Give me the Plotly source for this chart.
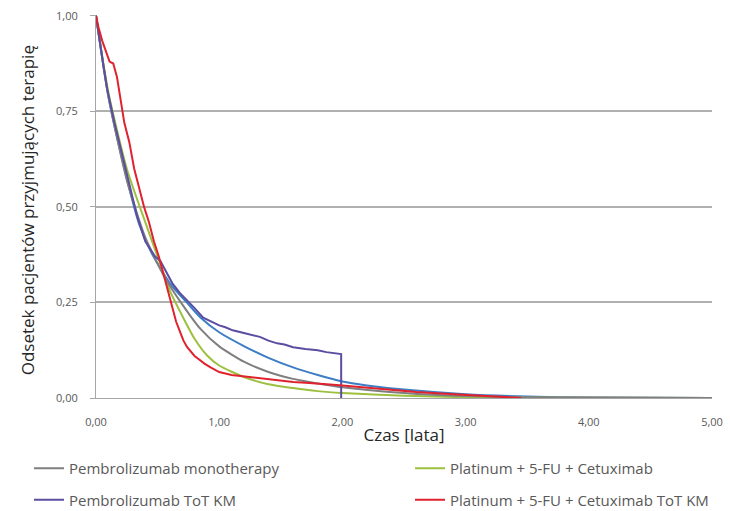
import plotly.graph_objects as go

# ---------------- data ----------------
x_ticks = [0, 1, 2, 3, 4, 5]
x_ticktext = ["0,00", "1,00", "2,00", "3,00", "4,00", "5,00"]
y_ticks = [0, 0.25, 0.5, 0.75, 1.0]
y_ticktext = ["0,00", "0,25", "0,50", "0,75", "1,00"]

# Pembrolizumab monotherapy (smooth model curve)
pem_mono_t = [0, 0.1, 0.25, 0.4, 0.55, 0.7, 0.85, 1.0, 1.2, 1.4, 1.6, 1.8, 2.0, 2.5, 3.0, 3.5, 4.0, 5.0]
pem_mono_y = [1.0, 0.79, 0.57, 0.42, 0.32, 0.245, 0.18, 0.135, 0.095, 0.068, 0.05, 0.038, 0.028, 0.013, 0.005, 0.002, 0.001, 0.0]

# Additional smooth curve (blue, no legend entry)
pem_blue_t = [0, 0.1, 0.25, 0.35, 0.45, 0.6, 0.75, 0.85, 1.0, 1.2, 1.4, 1.6, 1.8, 2.0, 2.2, 2.5, 3.0, 3.5, 4.0, 5.0]
pem_blue_y = [1.0, 0.79, 0.575, 0.455, 0.38, 0.3, 0.245, 0.21, 0.172, 0.136, 0.105, 0.08, 0.06, 0.043, 0.033, 0.022, 0.01, 0.004, 0.001, 0.0]

# Pembrolizumab ToT KM
pem_km_t = [0, 0.03, 0.06, 0.09, 0.12, 0.15, 0.18, 0.21, 0.24, 0.27, 0.3, 0.33, 0.36, 0.4, 0.44, 0.48,
            0.52, 0.57, 0.62, 0.68, 0.74, 0.8, 0.87, 0.93, 1.0, 1.05, 1.11, 1.2, 1.33, 1.4, 1.47, 1.53,
            1.6, 1.7, 1.8, 1.87, 1.96, 1.99, 1.99]
pem_km_y = [1.0, 0.93, 0.87, 0.81, 0.76, 0.72, 0.68, 0.64, 0.6, 0.56, 0.52, 0.48, 0.45, 0.41, 0.39, 0.37,
            0.36, 0.33, 0.3, 0.275, 0.256, 0.235, 0.21, 0.2, 0.19, 0.185, 0.177, 0.17, 0.16, 0.15, 0.143, 0.14,
            0.133, 0.128, 0.125, 0.12, 0.117, 0.115, 0.0]

# Platinum + 5-FU + Cetuximab (smooth model curve)
plat_t = [0, 0.1, 0.25, 0.4, 0.5, 0.6, 0.7, 0.8, 0.9, 1.0, 1.2, 1.4, 1.6, 1.8, 2.0, 2.5, 3.0, 3.5, 5.0]
plat_y = [1.0, 0.8, 0.6, 0.46, 0.37, 0.28, 0.215, 0.155, 0.112, 0.085, 0.055, 0.036, 0.026, 0.018, 0.013, 0.006, 0.002, 0.001, 0.0]

# Platinum + 5-FU + Cetuximab ToT KM
plat_km_t = [0, 0.02, 0.05, 0.08, 0.11, 0.14, 0.17, 0.2, 0.23, 0.27, 0.31, 0.35, 0.39, 0.43, 0.47, 0.51,
             0.55, 0.59, 0.62, 0.65, 0.68, 0.71, 0.74, 0.77, 0.8, 0.84, 0.88, 0.93, 1.0, 1.1, 1.2, 1.3,
             1.4, 1.5, 1.6, 1.7, 1.8, 1.9, 2.0, 2.2, 2.4, 2.6, 2.8, 3.0, 3.2, 3.35, 3.45]
plat_km_y = [1.0, 0.97, 0.935, 0.905, 0.88, 0.875, 0.84, 0.78, 0.72, 0.67, 0.6, 0.55, 0.5, 0.46, 0.41, 0.37,
             0.32, 0.27, 0.23, 0.2, 0.175, 0.15, 0.133, 0.12, 0.11, 0.1, 0.09, 0.08, 0.068, 0.06, 0.056, 0.052,
             0.048, 0.044, 0.042, 0.04, 0.037, 0.035, 0.033, 0.027, 0.021, 0.016, 0.012, 0.008, 0.004, 0.001, 0.0]

names = ["Pembrolizumab monotherapy", "Pembrolizumab ToT KM",
         "Platinum + 5-FU + Cetuximab", "Platinum + 5-FU + Cetuximab ToT KM"]
y_title = "Odsetek pacjentów przyjmujących terapię"
x_title = "Czas [lata]"

# ---------------- figure ----------------
fig = go.Figure()

fig.add_trace(go.Scatter(x=pem_blue_t, y=pem_blue_y, mode="lines", showlegend=False,
                         line=dict(color="#3D7DC4", width=2, shape="spline", smoothing=0.6),
                         hoverinfo="skip"))
fig.add_trace(go.Scatter(x=plat_t, y=plat_y, mode="lines", name=names[2], legend="legend2",
                         legendgroup="c", line=dict(color="#9DC03E", width=2, shape="spline", smoothing=0.6)))
fig.add_trace(go.Scatter(x=pem_mono_t, y=pem_mono_y, mode="lines", name=names[0], legend="legend",
                         legendgroup="a", line=dict(color="#7F7F7F", width=2, shape="spline", smoothing=0.6)))
fig.add_trace(go.Scatter(x=pem_km_t, y=pem_km_y, mode="lines", name=names[1], legend="legend",
                         legendgroup="b", line=dict(color="#5B4DA2", width=2)))
fig.add_trace(go.Scatter(x=plat_km_t, y=plat_km_y, mode="lines", name=names[3], legend="legend2",
                         legendgroup="d", line=dict(color="#E0222E", width=2)))

font_family = "Open Sans, Lato, sans-serif"

leg_common = dict(orientation="v", xanchor="left", yanchor="top",
                  xref="container", yref="container", y=1 - 452 / 511,
                  traceorder="grouped", tracegroupgap=9, itemwidth=30,
                  font=dict(size=15, color="#595959"), bgcolor="rgba(0,0,0,0)")

fig.update_layout(
    width=730, height=511,
    margin=dict(l=96, r=18, t=15, b=113, autoexpand=False),
    paper_bgcolor="white", plot_bgcolor="white",
    font=dict(family=font_family, color="#404040"),
    xaxis=dict(range=[0, 5], tickvals=x_ticks, ticktext=x_ticktext,
               showgrid=False, zeroline=False, showline=True, linecolor="#A6A6A6", linewidth=1,
               ticks="", tickfont=dict(size=11, color="#595959"),
               ticklabelstandoff=14,
               title=dict(text=x_title, font=dict(size=17, color="#262626"), standoff=0)),
    yaxis=dict(range=[0, 1.002], tickvals=y_ticks, ticktext=y_ticktext,
               showgrid=True, gridcolor="#B0B0B0", gridwidth=1.5, zeroline=False,
               showline=True, linecolor="#A6A6A6", linewidth=1,
               ticks="outside", ticklen=5, tickcolor="#A6A6A6",
               tickfont=dict(size=11, color="#595959"), ticklabelstandoff=10),
    annotations=[dict(text=y_title, textangle=-90, xref="paper", yref="paper",
                      x=(27 - 96) / 616, y=0.49, xanchor="center", yanchor="middle",
                      showarrow=False, font=dict(size=17, color="#262626"))],
    legend=dict(x=29 / 730, **leg_common),
    legend2=dict(x=410 / 730, **leg_common),
)

fig.write_html("out.html")
